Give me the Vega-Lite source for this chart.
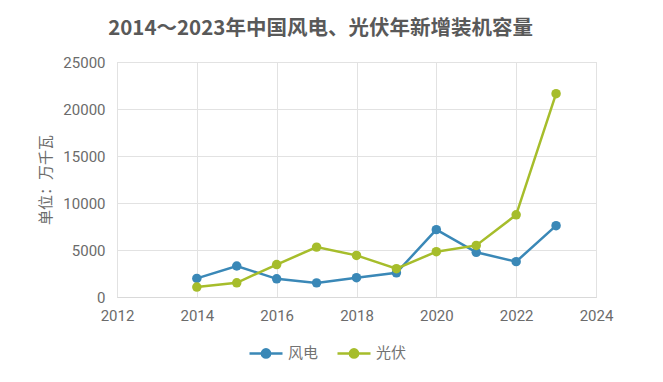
{
  "$schema": "https://vega.github.io/schema/vega-lite/v6.json",
  "autosize": "none",
  "width": 479,
  "height": 235,
  "padding": {"left": 117, "top": 62, "right": 67, "bottom": 85},
  "background": "white",
  "title": {
    "text": "2014～2023年中国风电、光伏年新增装机容量",
    "fontSize": 20.5,
    "fontWeight": "bold",
    "color": "#595959",
    "font": "Noto Sans CJK SC",
    "offset": 16,
    "dx": -36
  },
  "data": {
    "values": [
      {"year": 2014, "type": "风电", "value": 1981},
      {"year": 2015, "type": "风电", "value": 3297},
      {"year": 2016, "type": "风电", "value": 1930},
      {"year": 2017, "type": "风电", "value": 1503},
      {"year": 2018, "type": "风电", "value": 2059},
      {"year": 2019, "type": "风电", "value": 2574},
      {"year": 2020, "type": "风电", "value": 7167},
      {"year": 2021, "type": "风电", "value": 4757},
      {"year": 2022, "type": "风电", "value": 3763},
      {"year": 2023, "type": "风电", "value": 7590},
      {"year": 2014, "type": "光伏", "value": 1060},
      {"year": 2015, "type": "光伏", "value": 1513},
      {"year": 2016, "type": "光伏", "value": 3454},
      {"year": 2017, "type": "光伏", "value": 5306},
      {"year": 2018, "type": "光伏", "value": 4426},
      {"year": 2019, "type": "光伏", "value": 3011},
      {"year": 2020, "type": "光伏", "value": 4820},
      {"year": 2021, "type": "光伏", "value": 5488},
      {"year": 2022, "type": "光伏", "value": 8741},
      {"year": 2023, "type": "光伏", "value": 21630}
    ]
  },
  "mark": {"type": "line", "strokeWidth": 2.5, "point": {"size": 90, "filled": true, "opacity": 1}},
  "encoding": {
    "x": {
      "field": "year", "type": "quantitative",
      "scale": {"domain": [2012, 2024], "nice": false, "zero": false},
      "axis": {"values": [2012, 2014, 2016, 2018, 2020, 2022, 2024], "format": "d", "title": null,
               "labelFontSize": 15, "labelColor": "#6b6b6b", "labelPadding": 11, "ticks": false,
               "labelFlush": false, "labelOverlap": false,
               "domainColor": "#d9d9d9", "gridColor": "#e2e2e2", "labelFont": "Roboto"}
    },
    "y": {
      "field": "value", "type": "quantitative",
      "scale": {"domain": [0, 25000], "nice": false},
      "axis": {"values": [0, 5000, 10000, 15000, 20000, 25000], "format": "d",
               "title": "单位：万千瓦", "titleFontSize": 15, "titleFontWeight": "normal", "titleColor": "#6b6b6b",
               "titleFont": "Noto Sans CJK SC", "titlePadding": 9,
               "labelFontSize": 15, "labelColor": "#6b6b6b", "labelPadding": 12, "ticks": false,
               "labelFlush": false,
               "domain": false, "gridColor": "#e2e2e2", "labelFont": "Roboto"}
    },
    "color": {
      "field": "type", "type": "nominal",
      "scale": {"domain": ["风电", "光伏"], "range": ["#3a88b7", "#a6bd2b"]},
      "legend": {"title": null, "orient": "none", "direction": "horizontal", "legendX": 131, "legendY": 273,
                 "padding": 0,
                 "labelFontSize": 15, "labelColor": "#737373", "labelFont": "Noto Sans CJK SC", "labelOffset": 4,
                 "symbolType": "M-1,0H1M-0.25,0A0.25,0.25 0 1,1 0.25,0A0.25,0.25 0 1,1 -0.25,0Z",
                 "symbolSize": 1089, "symbolStrokeWidth": 2.5, "columnPadding": 13,
                 "encode": {"symbols": {"update": {"fill": {"scale": "color", "field": "value"}, "stroke": {"scale": "color", "field": "value"}}}}}
    }
  },
  "config": {"view": {"stroke": "#d9d9d9"}}
}
